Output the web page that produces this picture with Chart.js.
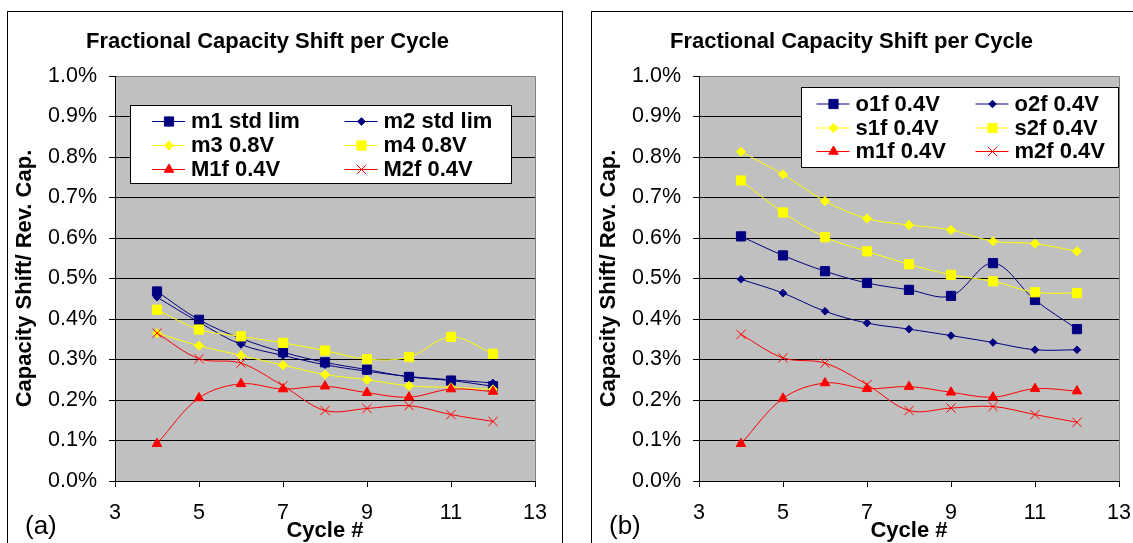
<!DOCTYPE html>
<html>
<head>
<meta charset="utf-8">
<script src="https://cdn.jsdelivr.net/npm/chart.js@4.4.1/dist/chart.umd.min.js"></script>
<style>
  html, body { margin: 0; padding: 0; background: #fff; overflow: hidden; }
  body { width: 1133px; height: 543px; position: relative; }
  .frame { position: absolute; top: 11px; height: 600px; border: 1px solid #000; }
  #frameA { left: 7px; width: 554px; }
  #frameB { left: 591px; width: 560px; }
  canvas { position: absolute; top: 0; }
  #chartA { left: 0; }
  #chartB { left: 584px; }
</style>
</head>
<body>
<div class="frame" id="frameA"></div>
<div class="frame" id="frameB"></div>
<canvas id="chartA" width="575" height="543"></canvas>
<canvas id="chartB" width="575" height="543"></canvas>
<script>
const cycles = [4, 5, 6, 7, 8, 9, 10, 11, 12];
const xTicks = [3, 5, 7, 9, 11, 13];
const yTicks = [0, 0.1, 0.2, 0.3, 0.4, 0.5, 0.6, 0.7, 0.8, 0.9, 1.0];

// panel (a), values in %
const namesA = ['m1 std lim', 'm2 std lim', 'm3 0.8V', 'm4 0.8V', 'M1f 0.4V', 'M2f 0.4V'];
const m1StdLim = [0.468, 0.398, 0.352, 0.318, 0.293, 0.275, 0.257, 0.248, 0.234];
const m2StdLim = [0.454, 0.392, 0.337, 0.310, 0.287, 0.271, 0.258, 0.250, 0.242];
const m3_08V   = [0.365, 0.334, 0.310, 0.286, 0.263, 0.250, 0.235, 0.231, 0.226];
const m4_08V   = [0.423, 0.374, 0.357, 0.341, 0.322, 0.301, 0.306, 0.356, 0.314];
const M1f_04V  = [0.092, 0.205, 0.240, 0.227, 0.234, 0.218, 0.207, 0.227, 0.221];
const M2f_04V  = [0.365, 0.302, 0.291, 0.235, 0.174, 0.179, 0.186, 0.164, 0.147];

// panel (b)
const namesB = ['o1f 0.4V', 'o2f 0.4V', 's1f 0.4V', 's2f 0.4V', 'm1f 0.4V', 'm2f 0.4V'];
const o1f = [0.604, 0.557, 0.518, 0.489, 0.472, 0.457, 0.538, 0.447, 0.375];
const o2f = [0.498, 0.464, 0.419, 0.390, 0.375, 0.359, 0.342, 0.324, 0.324];
const s1f = [0.813, 0.757, 0.691, 0.648, 0.632, 0.620, 0.592, 0.586, 0.567];
const s2f = [0.742, 0.663, 0.602, 0.567, 0.535, 0.509, 0.493, 0.466, 0.464];
const m1f = [0.092, 0.204, 0.242, 0.228, 0.233, 0.219, 0.207, 0.228, 0.222];
const m2f = [0.362, 0.304, 0.291, 0.238, 0.174, 0.180, 0.184, 0.164, 0.145];

const FONT = '"Liberation Sans", Arial, sans-serif';
const NAVY = '#000080', YELLOW = '#ffff00', RED = '#ff0000';

// marker styles, same order for both panels
const styles = [
    { color: NAVY, pointStyle: 'rect', radius: 6.5 },
    { color: NAVY, pointStyle: 'rectRot', radius: 3.8 },
    { color: YELLOW, pointStyle: 'rectRot', radius: 4.6 },
    { color: YELLOW, pointStyle: 'rect', radius: 6.5 },
    { color: RED, pointStyle: 'triangle', radius: 5.5 },
    { color: RED, pointStyle: 'crossRot', radius: 6.5 }
];

function makeDatasets(names, series) {
    return series.map((vals, i) => {
        const s = styles[i];
        return {
            label: names[i],
            data: vals.map((v, j) => ({ x: cycles[j], y: v })),
            borderColor: s.color,
            backgroundColor: s.color,
            borderWidth: 1,
            tension: 0.35,
            pointStyle: s.pointStyle,
            pointRadius: s.radius,
            pointBorderWidth: 1,
            pointBackgroundColor: s.color,
            pointBorderColor: s.color,
            order: series.length - i
        };
    });
}

const plotFrame = {
    id: 'plotFrame',
    beforeDraw(chart) {
        const { ctx, chartArea: a } = chart;
        ctx.save();
        ctx.fillStyle = '#c0c0c0';
        ctx.fillRect(a.left, a.top, a.right - a.left, a.bottom - a.top);
        ctx.restore();
    },
    beforeDatasetsDraw(chart) {
        const { ctx, chartArea: a } = chart;
        ctx.save();
        ctx.strokeStyle = '#808080';
        ctx.lineWidth = 1;
        ctx.beginPath();
        ctx.moveTo(a.left + 1, Math.round(a.top) + 0.5);
        ctx.lineTo(Math.round(a.right) + 0.5, Math.round(a.top) + 0.5);
        ctx.lineTo(Math.round(a.right) + 0.5, a.bottom);
        ctx.stroke();
        ctx.restore();
    },
    afterDraw(chart, args, opts) {
        const ctx = chart.ctx;
        ctx.save();
        ctx.fillStyle = '#000';
        ctx.font = '26px ' + FONT;
        ctx.textAlign = 'left';
        ctx.textBaseline = 'alphabetic';
        ctx.fillText(opts.tag, 25, 534);
        ctx.restore();
    }
};

const boxLegend = {
    id: 'boxLegend',
    afterDraw(chart, args, o) {
        const ctx = chart.ctx;
        ctx.save();
        ctx.fillStyle = '#fff';
        ctx.fillRect(o.left, o.top, o.width, o.height);
        ctx.strokeStyle = '#000';
        ctx.lineWidth = 1;
        ctx.strokeRect(o.left + 0.5, o.top + 0.5, o.width, o.height);
        chart.data.datasets.forEach((ds, i) => {
            const s = styles[i];
            const x0 = o.cols[i % 2];
            const y = o.rows[Math.floor(i / 2)];
            ctx.strokeStyle = s.color;
            ctx.lineWidth = 1;
            ctx.beginPath();
            ctx.moveTo(x0, y + 0.5);
            ctx.lineTo(x0 + 33, y + 0.5);
            ctx.stroke();
            ctx.fillStyle = s.color;
            ctx.strokeStyle = s.color;
            ctx.lineWidth = 1;
            Chart.helpers.drawPoint(ctx, {
                pointStyle: s.pointStyle, radius: s.radius,
                borderWidth: 1, rotation: 0
            }, x0 + 17, y + 0.5);
            ctx.fillStyle = '#000';
            ctx.font = 'bold 22px ' + FONT;
            ctx.textAlign = 'left';
            ctx.textBaseline = 'middle';
            ctx.fillText(ds.label, x0 + 39, y + 1);
        });
        ctx.restore();
    }
};

function makeChart(id, names, series, legendOpts, tag) {
    return new Chart(document.getElementById(id), {
        type: 'line',
        data: { datasets: makeDatasets(names, series) },
        plugins: [plotFrame, boxLegend],
        options: {
            responsive: false,
            animation: false,
            events: [],
            layout: { padding: { left: 0, right: 40, top: 0, bottom: 0 } },
            plugins: {
                legend: { display: false },
                tooltip: { enabled: false },
                title: {
                    display: true,
                    text: 'Fractional Capacity Shift per Cycle',
                    color: '#000',
                    font: { family: FONT, size: 22, weight: 'bold', lineHeight: 1 },
                    padding: { top: 31, bottom: 23 }
                },
                boxLegend: legendOpts,
                plotFrame: { tag: tag }
            },
            scales: {
                x: {
                    type: 'linear',
                    min: 3,
                    max: 13,
                    afterBuildTicks: s => { s.ticks = xTicks.map(v => ({ value: v })); },
                    afterFit: s => { s.height = 62; },
                    grid: { drawOnChartArea: false, drawTicks: true, tickLength: 6, color: '#000' },
                    border: { color: '#000', width: 1 },
                    ticks: {
                        color: '#000', padding: 13, maxRotation: 0,
                        font: { family: FONT, size: 21.5 },
                        callback: v => String(v)
                    },
                    title: {
                        display: true, text: 'Cycle #', color: '#000',
                        font: { family: FONT, size: 22, weight: 'bold', lineHeight: 1 },
                        padding: { top: 0, bottom: 1 }
                    }
                },
                y: {
                    min: 0,
                    max: 1,
                    afterBuildTicks: s => { s.ticks = yTicks.map(v => ({ value: v })); },
                    afterFit: s => { s.width = 115; },
                    grid: { drawOnChartArea: true, drawTicks: true, tickLength: 6, color: '#000' },
                    border: { color: '#000', width: 1 },
                    ticks: {
                        color: '#000', padding: 12,
                        font: { family: FONT, size: 21.5 },
                        callback: v => v.toFixed(1) + '%'
                    },
                    title: {
                        display: true, text: 'Capacity Shift/ Rev. Cap.', color: '#000',
                        font: { family: FONT, size: 22, weight: 'bold', lineHeight: 1 },
                        padding: { top: 14, bottom: 0 }
                    }
                }
            }
        }
    });
}

makeChart('chartA', namesA, [m1StdLim, m2StdLim, m3_08V, m4_08V, M1f_04V, M2f_04V], {
    left: 130, top: 105, width: 381, height: 78,
    cols: [152, 344.5], rows: [121, 145, 169]
}, '(a)');

makeChart('chartB', namesB, [o1f, o2f, s1f, s2f, m1f, m2f], {
    left: 217, top: 87, width: 317, height: 80,
    cols: [232.5, 391.5], rows: [103.5, 127.5, 151]
}, '(b)');
</script>
</body>
</html>
